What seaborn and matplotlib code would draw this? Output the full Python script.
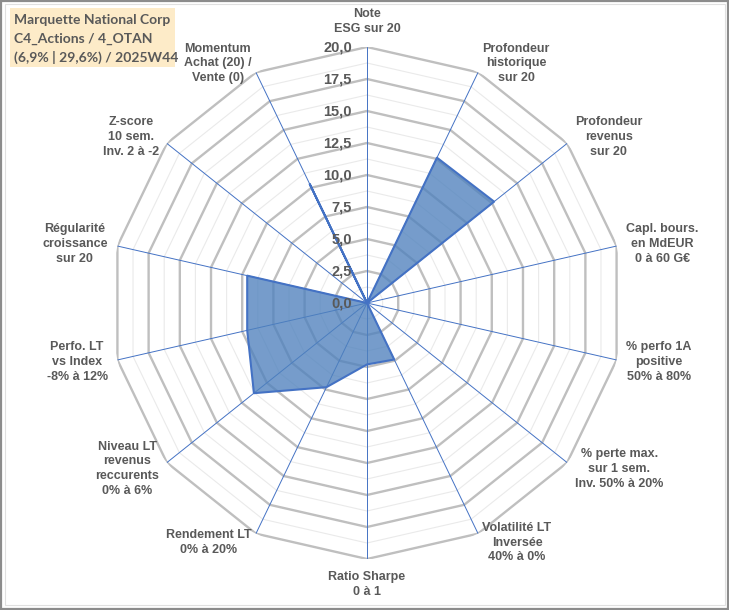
import numpy as np
import matplotlib
matplotlib.use("Agg")
import matplotlib.pyplot as plt
from matplotlib.patches import Rectangle
import seaborn as sns

# ---- data ----
axis_labels = [
    "Note\nESG sur 20",
    "Profondeur\nhistorique\nsur 20",
    "Profondeur\nrevenus\nsur 20",
    "Capl. bours.\nen MdEUR\n0 à 60 G€",
    "% perfo 1A\npositive\n50% à 80%",
    "% perte max.\nsur 1 sem.\nInv. 50% à 20%",
    "Volatilité LT\nInversée\n40% à 0%",
    "Ratio Sharpe\n0 à 1",
    "Rendement LT\n0% à 20%",
    "Niveau LT\nrevenus\nreccurents\n0% à 6%",
    "Perfo. LT\nvs Index\n-8% à 12%",
    "Régularité\ncroissance\nsur 20",
    "Z-score\n10 sem.\nInv. 2 à -2",
    "Momentum\nAchat (20) /\nVente (0)",
]
scores = [0.0, 12.6, 12.7, 0.0, 0.0, 0.0, 4.9, 4.8, 7.3, 11.3, 9.6, 9.6, 0.0, 10.3]
r_ticks = [0.0, 2.5, 5.0, 7.5, 10.0, 12.5, 15.0, 17.5, 20.0]
title_lines = ["Marquette National Corp", "C4_Actions / 4_OTAN", "(6,9% | 29,6%) / 2025W44"]

sns.set_theme(style="white")
plt.rcParams["font.family"] = ["Liberation Sans", "DejaVu Sans"]

W, H = 729, 610
fig = plt.figure(figsize=(W / 100, H / 100), dpi=100)
fig.patch.set_facecolor("white")

# frame around the figure
fig.add_artist(Rectangle((1 / W, 1 / H), (W - 2) / W, (H - 2) / H, transform=fig.transFigure,
                         fill=False, edgecolor="#8C8C8C", lw=1.6))
fig.add_artist(Rectangle((5 / W, 5 / H), (W - 9) / W, (H - 9) / H, transform=fig.transFigure,
                         fill=False, edgecolor="#E0E0E0", lw=0.8))

cx, cy, R = 367, 303, 256
ax = fig.add_axes([(cx - R) / W, (H - cy - R) / H, 2 * R / W, 2 * R / H], projection="polar")
ax.set_theta_zero_location("N")
ax.set_theta_direction(-1)
ax.grid(False)
ax.set_xticks([])
ax.set_yticks([])
ax.spines["polar"].set_visible(False)
ax.patch.set_alpha(0)

n = len(axis_labels)
theta = np.linspace(0, 2 * np.pi, n, endpoint=False)
tc = np.append(theta, theta[0])
vc = np.append(scores, scores[0])

# polygon grid
for r in np.arange(1.25, 20, 2.5):
    ax.plot(tc, [r] * (n + 1), color="#EAEAEA", lw=0.8, zorder=1)
for r in r_ticks[1:]:
    ax.plot(tc, [r] * (n + 1), color="#BFBFBF", lw=1.7, zorder=2)
for t in theta:
    ax.plot([t, t], [0, 20], color="#4472C4", lw=0.7, zorder=3)

# data
ax.fill(tc, vc, color="#4F81BD", alpha=0.78, lw=0, zorder=4)
sns.lineplot(x=tc, y=vc, sort=False, estimator=None, color="#4472C4", lw=1.5, ax=ax, zorder=5)
ax.set_xlabel("")
ax.set_ylabel("")
ax.set_ylim(0, 20)

txt_col = "#595959"
# radial tick labels
for v in r_ticks:
    ax.annotate(f"{v:.1f}".replace(".", ","), xy=(0, v), xytext=(-15, 0), textcoords="offset pixels",
                ha="right", va="center", fontsize=10.5, fontweight="bold", color=txt_col, zorder=6)

# category labels
for t, lab in zip(theta, axis_labels):
    s, c = np.sin(t), np.cos(t)
    ha = "center" if abs(s) < 0.1 else ("left" if s > 0 else "right")
    va = "bottom" if c > 0.99 else ("top" if c < -0.99 else "center")
    off = 12 if abs(s) < 0.1 else 10
    ax.annotate(lab, xy=(t, 20), xytext=(off * s, off * c), textcoords="offset pixels",
                ha=ha, va=va, multialignment="center", fontsize=9, fontweight="bold",
                color=txt_col, linespacing=1.3, annotation_clip=False)

# title box
fig.add_artist(Rectangle((10 / W, (H - 67) / H), 165 / W, 59 / H, transform=fig.transFigure,
                         facecolor="#FDEBC8", edgecolor="none"))
for i, line in enumerate(title_lines):
    fig.text(14 / W, (H - 20 - 18.5 * i) / H, line, ha="left", va="center", fontsize=10,
             family=["Lato", "DejaVu Sans"], fontweight="bold", color="#595959")

fig.savefig("out.png", dpi=100)
